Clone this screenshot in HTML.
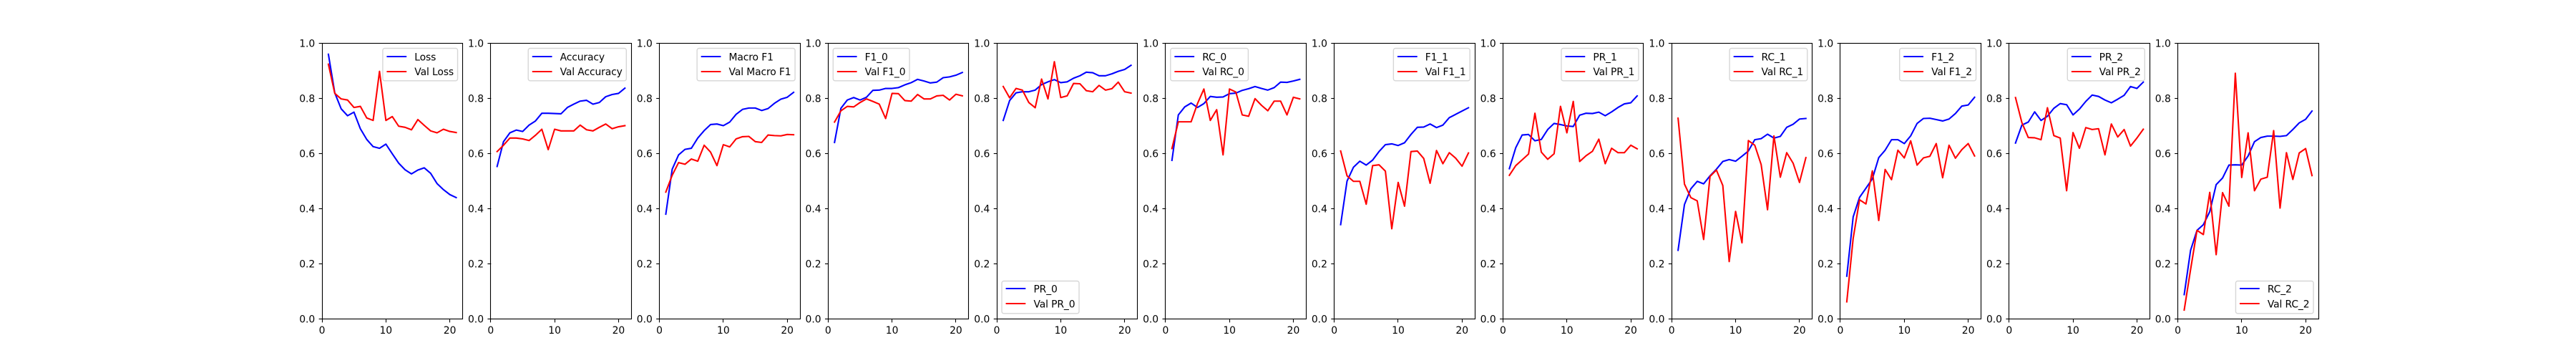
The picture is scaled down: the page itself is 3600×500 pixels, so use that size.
<!DOCTYPE html>
<html lang="en">
<head>
<meta charset="utf-8">
<title>Training metrics</title>
<style>
html,body{margin:0;padding:0;background:#fff;width:3600px;height:500px;overflow:hidden}
svg{display:block}
text{font-family:"DejaVu Sans","Liberation Sans",sans-serif;font-size:13.89px;fill:#000}
text.legend-text{letter-spacing:-0.12px}
</style>
</head>
<body>
<svg id="figure" xmlns="http://www.w3.org/2000/svg" width="3600" height="500" viewBox="0 0 3600 500"></svg>
<script>
const epochs = [1,2,3,4,5,6,7,8,9,10,11,12,13,14,15,16,17,18,19,20,21];
const xTicks = [0,10,20];
const yTicks = [0,0.2,0.4,0.6,0.8,1.0];
const yTickLabels = ["0.0","0.2","0.4","0.6","0.8","1.0"];

const lossTrain = [.959,.819,.761,.736,.749,.689,.650,.624,.618,.633,.598,.564,.540,.525,.539,.547,.527,.490,.468,.450,.439];
const lossVal = [.923,.817,.797,.793,.766,.770,.728,.719,.897,.719,.733,.698,.694,.685,.722,.701,.681,.674,.687,.679,.675];
const accTrain = [.552,.642,.674,.684,.679,.702,.717,.745,.745,.744,.743,.766,.778,.789,.792,.778,.784,.805,.813,.817,.836];
const accVal = [.606,.629,.655,.655,.652,.646,.665,.687,.613,.687,.681,.681,.681,.702,.685,.681,.694,.706,.689,.696,.700];
const macroTrain = [.379,.542,.594,.614,.618,.655,.682,.704,.706,.700,.713,.741,.759,.764,.764,.755,.762,.781,.796,.803,.821];
const macroVal = [.459,.520,.566,.560,.579,.571,.629,.604,.555,.631,.623,.652,.660,.661,.642,.639,.666,.664,.663,.668,.667];
const f10Train = [.639,.763,.793,.802,.793,.803,.828,.829,.835,.835,.838,.848,.856,.868,.862,.855,.858,.874,.877,.883,.893];
const f10Val = [.713,.754,.770,.768,.784,.797,.788,.778,.726,.817,.816,.791,.789,.813,.797,.797,.808,.810,.793,.814,.808];
const pr0Train = [.719,.791,.819,.823,.823,.829,.849,.859,.867,.856,.859,.872,.881,.894,.892,.881,.881,.888,.897,.904,.919];
const pr0Val = [.842,.801,.835,.829,.784,.765,.869,.797,.932,.802,.808,.853,.852,.827,.823,.846,.829,.834,.858,.823,.818];
const rc0Train = [.574,.739,.768,.782,.766,.780,.806,.803,.804,.816,.818,.828,.834,.842,.835,.829,.838,.858,.857,.862,.868];
const rc0Val = [.617,.714,.714,.714,.780,.833,.719,.758,.594,.833,.822,.739,.734,.798,.774,.754,.789,.789,.739,.803,.797];
const f11Train = [.341,.499,.549,.571,.557,.575,.606,.631,.634,.628,.638,.668,.694,.695,.706,.693,.702,.729,.741,.753,.765];
const f11Val = [.608,.518,.498,.498,.415,.555,.558,.535,.326,.494,.408,.606,.608,.581,.491,.610,.562,.602,.582,.553,.601];
const pr1Train = [.544,.620,.666,.668,.645,.650,.686,.708,.704,.699,.697,.738,.745,.744,.749,.736,.750,.766,.779,.783,.808];
const pr1Val = [.520,.555,.576,.597,.745,.604,.578,.598,.770,.674,.788,.570,.591,.607,.651,.562,.618,.602,.602,.629,.616];
const rc1Train = [.248,.414,.471,.498,.489,.518,.542,.570,.577,.571,.589,.608,.649,.653,.669,.655,.661,.694,.705,.724,.726];
const rc1Val = [.727,.488,.439,.427,.287,.516,.539,.483,.207,.389,.275,.646,.629,.559,.395,.663,.513,.602,.564,.494,.584];
const f12Train = [.154,.369,.440,.473,.507,.584,.611,.649,.649,.635,.663,.708,.726,.727,.722,.717,.724,.744,.771,.775,.803];
const f12Val = [.061,.291,.431,.416,.536,.356,.541,.504,.611,.583,.645,.557,.583,.589,.635,.511,.629,.582,.613,.635,.590];
const pr2Train = [.637,.702,.713,.750,.719,.734,.763,.780,.776,.739,.760,.788,.811,.806,.793,.783,.796,.810,.842,.835,.858];
const pr2Val = [.802,.711,.657,.656,.649,.765,.664,.655,.464,.675,.618,.693,.686,.689,.594,.706,.659,.686,.626,.655,.687];
const rc2Train = [.087,.248,.320,.341,.388,.486,.510,.557,.558,.557,.590,.642,.657,.662,.662,.661,.664,.686,.710,.723,.753];
const rc2Val = [.031,.178,.320,.305,.458,.232,.457,.408,.890,.512,.674,.464,.506,.513,.682,.401,.602,.505,.601,.617,.519];

const panels = [
  {key:"loss",label:"Loss",train:lossTrain,val:lossVal,legend:"upper-right"},
  {key:"accuracy",label:"Accuracy",train:accTrain,val:accVal,legend:"upper-right"},
  {key:"macro-f1",label:"Macro F1",train:macroTrain,val:macroVal,legend:"upper-right"},
  {key:"f1-0",label:"F1_0",train:f10Train,val:f10Val,legend:"upper-left"},
  {key:"pr-0",label:"PR_0",train:pr0Train,val:pr0Val,legend:"lower-left"},
  {key:"rc-0",label:"RC_0",train:rc0Train,val:rc0Val,legend:"upper-left"},
  {key:"f1-1",label:"F1_1",train:f11Train,val:f11Val,legend:"upper-right"},
  {key:"pr-1",label:"PR_1",train:pr1Train,val:pr1Val,legend:"upper-right"},
  {key:"rc-1",label:"RC_1",train:rc1Train,val:rc1Val,legend:"upper-right"},
  {key:"f1-2",label:"F1_2",train:f12Train,val:f12Val,legend:"upper-right"},
  {key:"pr-2",label:"PR_2",train:pr2Train,val:pr2Val,legend:"upper-right"},
  {key:"rc-2",label:"RC_2",train:rc2Train,val:rc2Val,legend:"lower-right"}
];

const SVG_NS = "http://www.w3.org/2000/svg";
const figure = document.getElementById("figure");
const FIG_LEFT = 450, AXES_W = 2790 / 14.2, AXES_STEP = AXES_W * 1.2;
const AXES_TOP = 60, AXES_BOTTOM = 445;
const X_MAX = 22, Y_MIN = 0, Y_MAX = 1;
const SPINE = 1.11, TICK = 4.86, LINE_W = 2.08;

function make(parent, tag, props, content) {
  const el = document.createElementNS(SVG_NS, tag);
  for (const k in props) el.setAttribute(k, props[k]);
  if (content !== undefined) el.textContent = content;
  parent.appendChild(el);
  return el;
}
function xScale(left, v) { return left + (v / X_MAX) * AXES_W; }
function yScale(v) { return AXES_BOTTOM - ((v - Y_MIN) / (Y_MAX - Y_MIN)) * (AXES_BOTTOM - AXES_TOP); }
function snap(v) { return Math.floor(v) + 0.5; }
function pointsFor(left, xs, ys) {
  return xs.map((x, i) => xScale(left, x).toFixed(2) + "," + yScale(ys[i]).toFixed(2)).join(" ");
}

panels.forEach((p, idx) => {
  const left = FIG_LEFT + AXES_STEP * idx;
  const right = left + AXES_W;

  const group = make(figure, "g", {});
  
  

  const trainLine = make(group, "polyline", {points: pointsFor(left, epochs, p.train), fill: "none", stroke: "#0000ff", "stroke-width": LINE_W, "stroke-linejoin": "round", "stroke-linecap": "square"});
  
  

  const valLine = make(group, "polyline", {points: pointsFor(left, epochs, p.val), fill: "none", stroke: "#ff0000", "stroke-width": LINE_W, "stroke-linejoin": "round", "stroke-linecap": "square"});
  
  

  const frame = make(group, "rect", {x: snap(left), y: snap(AXES_TOP), width: snap(right) - snap(left), height: snap(AXES_BOTTOM) - snap(AXES_TOP), fill: "none", stroke: "#000", "stroke-width": SPINE});
  
  

  xTicks.forEach((t) => {
    const tx = snap(xScale(left, t));
    const tick = make(group, "line", {x1: tx, x2: tx, y1: AXES_BOTTOM + 0.5, y2: AXES_BOTTOM + 0.5 + TICK, stroke: "#000", "stroke-width": SPINE});
    
    
    const label = make(group, "text", {x: xScale(left, t), y: 466, "text-anchor": "middle"}, String(t));
    
    
  });

  yTicks.forEach((t, i) => {
    const ty = yScale(t);
    const tick = make(group, "line", {x1: left - TICK + 0.5, x2: left + 0.5, y1: snap(ty), y2: snap(ty), stroke: "#000", "stroke-width": SPINE});
    
    
    const label = make(group, "text", {x: left - TICK - 4.86, y: ty + 5.3, "text-anchor": "end"}, yTickLabels[i]);
    
    
  });

  const legend = make(group, "g", {});
  
  

  const box = make(legend, "rect", {rx: 2.78, ry: 2.78, fill: "#fff", "fill-opacity": 0.8, stroke: "#ccc", "stroke-opacity": 0.8, "stroke-width": 1.39});
  
  

  const isLower = p.legend.indexOf("lower") === 0;
  const isRight = p.legend.indexOf("right") > 0;
  const boxTop = isLower ? 392.5 : 67.5;
  const boxH = 45.3;
  const handleOffsets = isLower ? [10.5, 31.5] : [11.5, 32.5];
  const baseOffsets = isLower ? [15.8, 36.8] : [16.8, 37.3];

  const t1 = make(legend, "text", {y: boxTop + baseOffsets[0], class: "legend-text"}, p.label);
  
  
  const t2 = make(legend, "text", {y: boxTop + baseOffsets[1], class: "legend-text"}, "Val " + p.label);
  
  

  const textW = Math.max(t1.getComputedTextLength(), t2.getComputedTextLength());
  const boxW = textW + 50;
  const boxLeft = isRight ? right - 6.94 - boxW : left + 6.94;
  box.setAttribute("x", boxLeft);
  box.setAttribute("y", boxTop);
  box.setAttribute("width", boxW);
  box.setAttribute("height", boxH);
  t1.setAttribute("x", boxLeft + 44.4);
  t2.setAttribute("x", boxLeft + 44.4);

  const h1 = make(legend, "line", {x1: boxLeft + 5.56, x2: boxLeft + 33.3, y1: boxTop + handleOffsets[0], y2: boxTop + handleOffsets[0], stroke: "#0000ff", "stroke-width": LINE_W});
  
  
  const h2 = make(legend, "line", {x1: boxLeft + 5.56, x2: boxLeft + 33.3, y1: boxTop + handleOffsets[1], y2: boxTop + handleOffsets[1], stroke: "#ff0000", "stroke-width": LINE_W});
  
  
});
</script>
</body>
</html>
